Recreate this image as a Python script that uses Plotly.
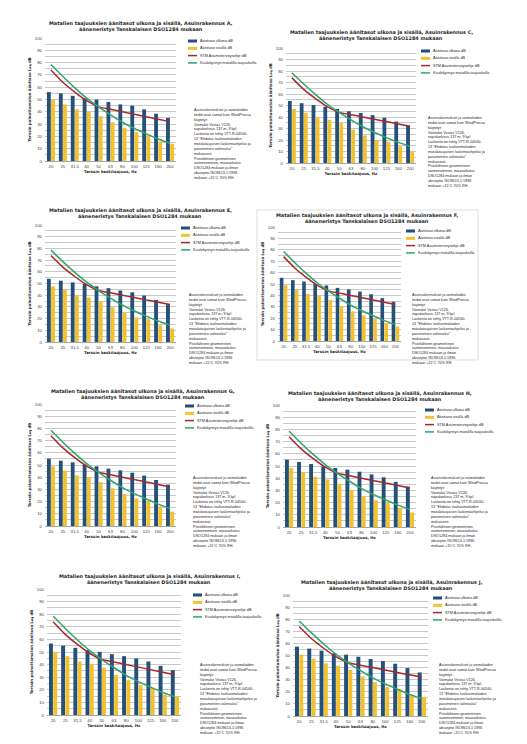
import plotly.graph_objects as go

W, H = 527, 744

# ---------------- data ----------------
freq_labels = ["20", "25", "31,5", "40", "50", "63", "80", "100", "125", "160", "200"]
stm_guideline = [74, 64, 56, 49, 44, 42, 40, 38, 36, 34, 32]
hearing_threshold = [78.5, 68.7, 59.5, 51.1, 44.0, 37.5, 31.5, 26.5, 22.1, 17.9, 14.4]
y_ticks = [0, 10, 20, 30, 40, 50, 60, 70, 80, 90, 100]

buildings = ["A", "C", "E", "F", "G", "H", "I", "J"]

outdoor_A = [56, 55, 53, 51, 50, 48, 46, 45, 42, 38.5, 35]
indoor_A = [50, 46, 42, 40, 36.5, 31.5, 27, 23.5, 21, 16, 14]
outdoor_C = [54, 52, 50.5, 49, 47, 45, 43.5, 41.6, 39.3, 36, 32.5]
indoor_C = [47, 43.6, 40, 37.6, 34.7, 29, 24, 20, 18.5, 14.5, 10]
outdoor_E = [54, 52.4, 51, 49.6, 47.6, 46, 44, 42.5, 39.7, 36, 32.3]
indoor_E = [47.6, 44.5, 40, 38, 35, 29.7, 25, 21, 19.5, 14.4, 11.6]
outdoor_F = [55.4, 53.4, 52.2, 49.9, 48.7, 46.6, 45.2, 43.4, 41, 37.6, 34.4]
indoor_F = [49, 45, 41.4, 39.6, 36, 30.6, 26, 22.4, 19.5, 16, 12.8]
outdoor_G = [55.2, 53.5, 52.2, 50.3, 48.9, 47, 45.6, 43.7, 41.3, 37.7, 33.9]
indoor_G = [48.9, 45.4, 41.5, 40.2, 36, 30.9, 26.2, 22.7, 20.5, 16.1, 11.7]
outdoor_H = [55.2, 53.3, 51.6, 49.7, 48.4, 47, 45.3, 43.1, 40.7, 37, 33.2]
indoor_H = [48.4, 45, 41.2, 39, 35.4, 30.2, 25.3, 22, 19.8, 15.7, 11.8]
outdoor_I = [56.7, 55.1, 53.3, 51.5, 50.1, 48.3, 46.7, 44.9, 42.5, 39, 35.6]
indoor_I = [50.1, 46.7, 42.5, 40.6, 37.5, 31.9, 27.7, 23.7, 21.6, 16.1, 15]
outdoor_J = [57.3, 55.7, 54, 51.8, 50.7, 49, 47.1, 45.4, 43.2, 39.6, 36]
indoor_J = [50.7, 47.4, 43.5, 41.6, 38, 32.7, 28, 23.8, 22.2, 17.5, 15.8]

outdoor = {"A": outdoor_A, "C": outdoor_C, "E": outdoor_E, "F": outdoor_F,
           "G": outdoor_G, "H": outdoor_H, "I": outdoor_I, "J": outdoor_J}
indoor = {"A": indoor_A, "C": indoor_C, "E": indoor_E, "F": indoor_F,
          "G": indoor_G, "H": indoor_H, "I": indoor_I, "J": indoor_J}

series_names = ["Äänitaso ulkona dB", "Äänitaso sisällä dB",
                "STM Asumisterveysohje dB", "Kuulokynnys matalilla taajuuksilla"]

title_lines_tpl = ["Matalien taajuuksien äänitasot ulkona ja sisällä, Asuinrakennus {b},",
                   "ääneneristys Tanskalaisen DSO1284 mukaan"]
y_title = "Terssin painottamaton äänitaso L<span style='font-size:3px'>eq</span> dB"
x_title = "Terssin keskitaajuus, Hz"
note_lines = ["Asuinrakennukset ja voimaloiden",
              "tiedot ovat samat kuin WindProssa",
              "käytetyt:",
              "Voimalat Vestas V126,",
              "napakorkeus 137 m, 9 kpl",
              "Laskenta on tehty VTT-R-04560-",
              "13 \"Ehdotus tuulivoimaloiden",
              "matalataajuisen laskentaohjeiksi ja",
              "parametrien valinnaksi\"",
              "mukaisesti.",
              "Pistelähteen geometrinen",
              "vaimeneminen, maavaikutus",
              "DSO1284 mukaan ja ilman",
              "absorptio ISO9613-1:1996",
              "mukaan +15°C 70% RH."]

# ---------------- layout (pixel positions) ----------------
panels = {
    "A": dict(plot=(37, 168, 30, 153), title=(133, 16), legend=(180, 33), note=(184, 102)),
    "C": dict(plot=(278, 408, 40, 155), title=(373, 25), legend=(413, 43), note=(418, 110)),
    "E": dict(plot=(37, 168, 217, 334), title=(132, 203), legend=(173, 220), note=(179, 287)),
    "F": dict(plot=(270, 393, 219, 333), title=(359, 208), legend=(398, 223), note=(402, 287)),
    "G": dict(plot=(37, 168, 396, 518), title=(135, 383), legend=(177, 398), note=(183, 470)),
    "H": dict(plot=(275, 408, 397, 519), title=(372, 385), legend=(417, 402), note=(421, 470)),
    "I": dict(plot=(39, 173, 581, 707), title=(141, 568), legend=(185, 587), note=(190, 657)),
    "J": dict(plot=(285, 420, 587, 708), title=(383, 574), legend=(425, 590), note=(429, 657)),
}

C_OUT = "#24507A"
C_IN = "#F2C12E"
C_STM = "#A8282A"
C_HEAR = "#2EA56E"
FONT = "Liberation Sans, Arial, sans-serif"
FONT_W = "DejaVu Sans, Verdana, sans-serif"


def fx(x):
    return x / W


def fy(y):
    return 1 - y / H


fig = go.Figure()
annotations = []
shapes = []
layout_axes = {}

for i, b in enumerate(buildings):
    n = "" if i == 0 else str(i + 1)
    xa, ya = "x" + n, "y" + n
    p = panels[b]
    x0, x1, y0, y1 = p["plot"]

    fig.add_trace(go.Bar(x=freq_labels, y=outdoor[b], name=series_names[0],
                         marker=dict(color=C_OUT, line=dict(width=0)),
                         xaxis=xa, yaxis=ya, showlegend=False))
    fig.add_trace(go.Bar(x=freq_labels, y=indoor[b], name=series_names[1],
                         marker=dict(color=C_IN, line=dict(width=0)),
                         xaxis=xa, yaxis=ya, showlegend=False))
    fig.add_trace(go.Scatter(x=freq_labels, y=stm_guideline, name=series_names[2],
                             mode="lines", line=dict(color=C_STM, width=1.5, shape="spline", smoothing=0.5),
                             xaxis=xa, yaxis=ya, showlegend=False))
    fig.add_trace(go.Scatter(x=freq_labels, y=hearing_threshold, name=series_names[3],
                             mode="lines", line=dict(color=C_HEAR, width=1.5, shape="spline", smoothing=0.5),
                             xaxis=xa, yaxis=ya, showlegend=False))

    layout_axes["xaxis" + n] = dict(
        domain=[fx(x0), fx(x1)], anchor=ya, type="category",
        tickfont=dict(size=4.3, color="#404040", family=FONT),
        showline=True, linecolor="#A6A6A6", linewidth=0.8,
        ticks="", showgrid=False, ticklabelstandoff=1, automargin=False,
        title=dict(text="<b>" + x_title + "</b>", standoff=2,
                   font=dict(size=3.9, color="#262626", family=FONT_W)))
    layout_axes["yaxis" + n] = dict(
        domain=[fy(y1), fy(y0)], anchor=xa, range=[0, 100],
        tickvals=y_ticks, ticktext=[str(v) for v in y_ticks],
        tickfont=dict(size=4.3, color="#404040", family=FONT),
        showgrid=True, gridcolor="#C8C8C8", gridwidth=0.6,
        minor=dict(dtick=5, showgrid=True, gridcolor="#C8C8C8", gridwidth=0.6),
        showline=False, zeroline=False, ticks="", ticklabelstandoff=2, automargin=False,
        title=dict(text="<b>" + y_title + "</b>", standoff=3,
                   font=dict(size=3.9, color="#262626", family=FONT_W)))

    # title (one annotation per line)
    tx, ty = p["title"]
    for k, line in enumerate(title_lines_tpl):
        annotations.append(dict(text="<b>" + line.format(b=b) + "</b>", x=fx(tx), y=fy(ty + 6 * k),
                                xref="paper", yref="paper", xanchor="center", yanchor="middle",
                                showarrow=False,
                                font=dict(size=4.9, color="#262626", family=FONT_W)))
    # note (one annotation per line)
    nx, ny = p["note"]
    for k, line in enumerate(note_lines):
        annotations.append(dict(text=line, x=fx(nx), y=fy(ny + 4.85 * k), xref="paper", yref="paper",
                                xanchor="left", yanchor="middle", showarrow=False,
                                font=dict(size=3.7, color="#262626", family=FONT)))
    # legend
    lx, ly = p["legend"]
    leg_styles = [(C_OUT, 3), (C_IN, 3), (C_STM, 1.5), (C_HEAR, 1.5)]
    for k, (col, lw) in enumerate(leg_styles):
        yy = ly + 7.3 * k
        shapes.append(dict(type="line", xref="paper", yref="paper",
                           x0=fx(lx), x1=fx(lx + 9), y0=fy(yy), y1=fy(yy),
                           line=dict(color=col, width=lw)))
        annotations.append(dict(text=series_names[k], x=fx(lx + 10), y=fy(yy),
                                xref="paper", yref="paper", xanchor="left", yanchor="middle",
                                showarrow=False,
                                font=dict(size=3.8, color="#262626", family=FONT)))

# frame seen around chart F
shapes.append(dict(type="rect", xref="paper", yref="paper",
                   x0=fx(249), x1=fx(470), y0=fy(352), y1=fy(202),
                   line=dict(color="#D0D0D0", width=0.7)))

fig.update_layout(
    width=W, height=H, autosize=False,
    margin=dict(l=0, r=0, t=0, b=0),
    paper_bgcolor="white", plot_bgcolor="white",
    barmode="group", bargap=0.3, bargroupgap=0.08,
    showlegend=False,
    annotations=annotations, shapes=shapes,
    **layout_axes,
)

fig.write_html("out.html")
